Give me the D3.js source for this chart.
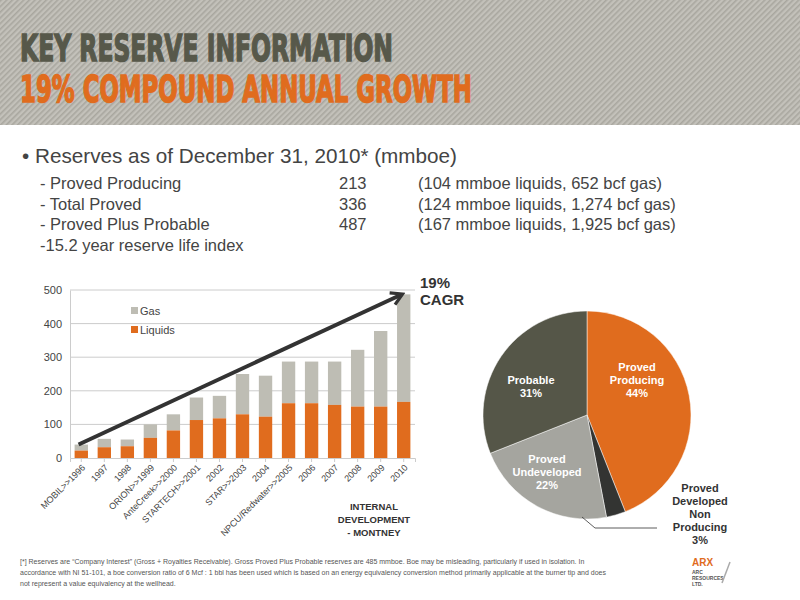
<!DOCTYPE html>
<html>
<head>
<meta charset="utf-8">
<script src="https://d3js.org/d3.v7.min.js"></script>
<style>
body { margin:0; background:#fff; }
svg { display:block; font-family:"Liberation Sans", Arial, sans-serif; }
</style>
</head>
<body>
<svg id="svg" width="800" height="600"></svg>
<script>
// bar chart data (mmboe)
let years = ["MOBIL>>1996","1997","1998","ORION>>1999","AnteCreek>>2000","STARTECH>>2001","2002","STAR>>2003","2004","NPCU/Redwater>>2005","2006","2007","2008","2009","2010"];
let liquids = [22,32,35,60,82,113,118,130,123,163,163,158,153,153,167];
let totals = [40,57,55,100,130,180,185,250,245,287,287,287,322,378,487];
let yTicks = [0,100,200,300,400,500];

// pie data
let pieLabels = [["Proved","Producing","44%"],["Proved","Developed","Non","Producing","3%"],["Proved","Undeveloped","22%"],["Probable","31%"]];
let pieValues = [44,3,22,31];
let pieColors = ["#e06c1e","#333432","#a5a59f","#555648"];

let rows = [
  ["- Proved Producing","213","(104 mmboe liquids, 652 bcf gas)"],
  ["- Total Proved","336","(124 mmboe liquids, 1,274 bcf gas)"],
  ["- Proved Plus Probable","487","(167 mmboe liquids, 1,925 bcf gas)"],
  ["-15.2 year reserve life index","",""]
];

let svg = d3.select("svg");
let defs = svg.append("defs");
let pat = defs.append("pattern").attr("id","stripes").attr("width",4).attr("height",4)
  .attr("patternUnits","userSpaceOnUse").attr("patternTransform","rotate(45)");
pat.append("rect").attr("width",4).attr("height",4).attr("fill","#c3c1ba");
pat.append("rect").attr("width",1.6).attr("height",4).attr("fill","#a9a79f");

// header
svg.append("rect").attr("width",800).attr("height",125).attr("fill","url(#stripes)");
svg.append("text").attr("x",20).attr("y",61).attr("font-size",38).attr("font-weight","bold")
  .attr("font-family","DejaVu Sans").attr("fill","#57584a").attr("stroke","#57584a").attr("stroke-width",1.6)
  .attr("textLength",373).attr("lengthAdjust","spacingAndGlyphs").text("KEY RESERVE INFORMATION");
svg.append("text").attr("x",20).attr("y",102).attr("font-size",38).attr("font-weight","bold")
  .attr("font-family","DejaVu Sans").attr("fill","#e06c1e").attr("stroke","#e06c1e").attr("stroke-width",1.6)
  .attr("textLength",452).attr("lengthAdjust","spacingAndGlyphs").text("19% COMPOUND ANNUAL GROWTH");

svg.append("text").attr("x",22).attr("y",163).attr("font-size",21).attr("fill","#444")
  .attr("textLength",435).attr("lengthAdjust","spacingAndGlyphs")
  .text("\u2022 Reserves as of December 31, 2010*  (mmboe)");
rows.forEach(function(r,i){
  let y = 189 + i*20.5;
  svg.append("text").attr("x",40).attr("y",y).attr("font-size",16.5).attr("fill","#444").text(r[0]);
  svg.append("text").attr("x",339).attr("y",y).attr("font-size",16.5).attr("fill","#444").text(r[1]);
  svg.append("text").attr("x",418).attr("y",y).attr("font-size",16.5).attr("fill","#444").text(r[2]);
});

// bar chart
let x = d3.scaleBand().domain(years).range([70,415]).paddingInner(0.42).paddingOuter(0.2);
let y = d3.scaleLinear().domain([0,500]).range([458,290]);
let g = svg.append("g");
yTicks.forEach(function(t){
  if (t>0) g.append("line").attr("x1",70).attr("x2",415).attr("y1",y(t)).attr("y2",y(t)).attr("stroke","#ccc");
});
let ya = g.append("g").attr("transform","translate(70,0)").call(d3.axisLeft(y).tickValues(yTicks).tickSize(0).tickPadding(8));
ya.select(".domain").attr("stroke","#ccc");
ya.selectAll("text").attr("font-size",11).attr("fill","#444");
g.selectAll(".gas").data(years).enter().append("rect")
  .attr("x",d=>x(d)).attr("width",x.bandwidth())
  .attr("y",(d,i)=>y(totals[i])).attr("height",(d,i)=>y(liquids[i])-y(totals[i])).attr("fill","#bebdb4");
g.selectAll(".liq").data(years).enter().append("rect")
  .attr("x",d=>x(d)).attr("width",x.bandwidth())
  .attr("y",(d,i)=>y(liquids[i])).attr("height",(d,i)=>y(0)-y(liquids[i])).attr("fill","#e06c1e");
let xa = g.append("g").attr("transform","translate(0,458)").call(d3.axisBottom(x).tickSize(4).tickPadding(2));
xa.select(".domain").attr("stroke","#ccc");
xa.selectAll("line").attr("stroke","#ccc");
xa.selectAll("text").attr("font-size",9).attr("fill","#444")
  .attr("text-anchor","end").attr("transform","rotate(-45) translate(-4,-2)");

// legend
g.append("rect").attr("x",131).attr("y",307).attr("width",7).attr("height",7).attr("fill","#bebdb4");
g.append("text").attr("x",140).attr("y",315).attr("font-size",11).attr("fill","#444").text("Gas");
g.append("rect").attr("x",131).attr("y",326).attr("width",7).attr("height",7).attr("fill","#e06c1e");
g.append("text").attr("x",140).attr("y",334).attr("font-size",11).attr("fill","#444").text("Liquids");

// CAGR arrow
defs.append("marker").attr("id","arr").attr("viewBox","0 0 10 10").attr("refX",7).attr("refY",5)
  .attr("markerWidth",4).attr("markerHeight",4).attr("orient","auto")
  .append("path").attr("d","M1,1 L8,5 L1,9").attr("fill","none").attr("stroke","#333").attr("stroke-width",2);
g.append("line").attr("x1",x(years[0])+4).attr("y1",y(40)).attr("x2",x(years[14])+4).attr("y2",y(486))
  .attr("stroke","#333").attr("stroke-width",4).attr("marker-end","url(#arr)");
svg.append("text").attr("x",420).attr("y",288).attr("font-size",15).attr("font-weight","bold").attr("fill","#333").text("19%");
svg.append("text").attr("x",420).attr("y",305).attr("font-size",15).attr("font-weight","bold").attr("fill","#333").text("CAGR");

["INTERNAL","DEVELOPMENT","- MONTNEY"].forEach(function(t,i){
  svg.append("text").attr("x",374).attr("y",510+i*13).attr("text-anchor","middle").attr("font-size",9.5)
    .attr("font-weight","bold").attr("fill","#333").text(t);
});

// pie
let cx = 587, cy = 415, r = 104;
let arcs = d3.pie().sort(null)(pieValues);
let arc = d3.arc().innerRadius(0).outerRadius(r);
let pg = svg.append("g").attr("transform","translate("+cx+","+cy+")");
pg.selectAll("path").data(arcs).enter().append("path").attr("d",arc)
  .attr("fill",(d,i)=>pieColors[i]).attr("stroke","#fff").attr("stroke-width",0.5);
let labelPos = [[50,-35],[0,0],[-40,57],[-56,-29]];
[0,2,3].forEach(function(i){
  pieLabels[i].forEach(function(t,j){
    pg.append("text").attr("x",labelPos[i][0]).attr("y",labelPos[i][1]+j*13 - (pieLabels[i].length-1)*6.5+4)
      .attr("text-anchor","middle").attr("font-size",11).attr("font-weight","bold").attr("fill","#fff").text(t);
  });
});
pg.append("polyline").attr("points","-5,102 8,113 70,113").attr("fill","none").attr("stroke","#333").attr("stroke-width",0.8);
pieLabels[1].forEach(function(t,j){
  pg.append("text").attr("x",113).attr("y",77+j*13).attr("text-anchor","middle").attr("font-size",11)
    .attr("font-weight","bold").attr("fill","#333").text(t);
});

// footnote
let notes = ["[*] Reserves are \u201cCompany Interest\u201d (Gross  + Royalties Receivable).  Gross Proved Plus Probable reserves are 485 mmboe.  Boe may be misleading, particularly if used in isolation.  In",
 "accordance with NI 51-101, a boe conversion ratio of 6 Mcf : 1 bbl has been used which is based on an energy equivalency conversion method primarily applicable at the burner tip and does",
 "not represent a value equivalency at the wellhead."];
notes.forEach(function(t,i){
  svg.append("text").attr("x",20).attr("y",564+i*11).attr("font-size",7).attr("fill","#555").text(t);
});
svg.append("text").attr("x",692).attr("y",566).attr("font-size",10).attr("font-weight","bold").attr("fill","#e06c1e").text("ARX");
["ARC","RESOURCES","LTD."].forEach(function(t,i){
  svg.append("text").attr("x",692).attr("y",574+i*6).attr("font-size",5).attr("font-weight","bold").attr("fill","#555").text(t);
});
svg.append("line").attr("x1",722).attr("y1",583).attr("x2",730).attr("y2",562).attr("stroke","#aaa").attr("stroke-width",1.5);
</script>
</body>
</html>
